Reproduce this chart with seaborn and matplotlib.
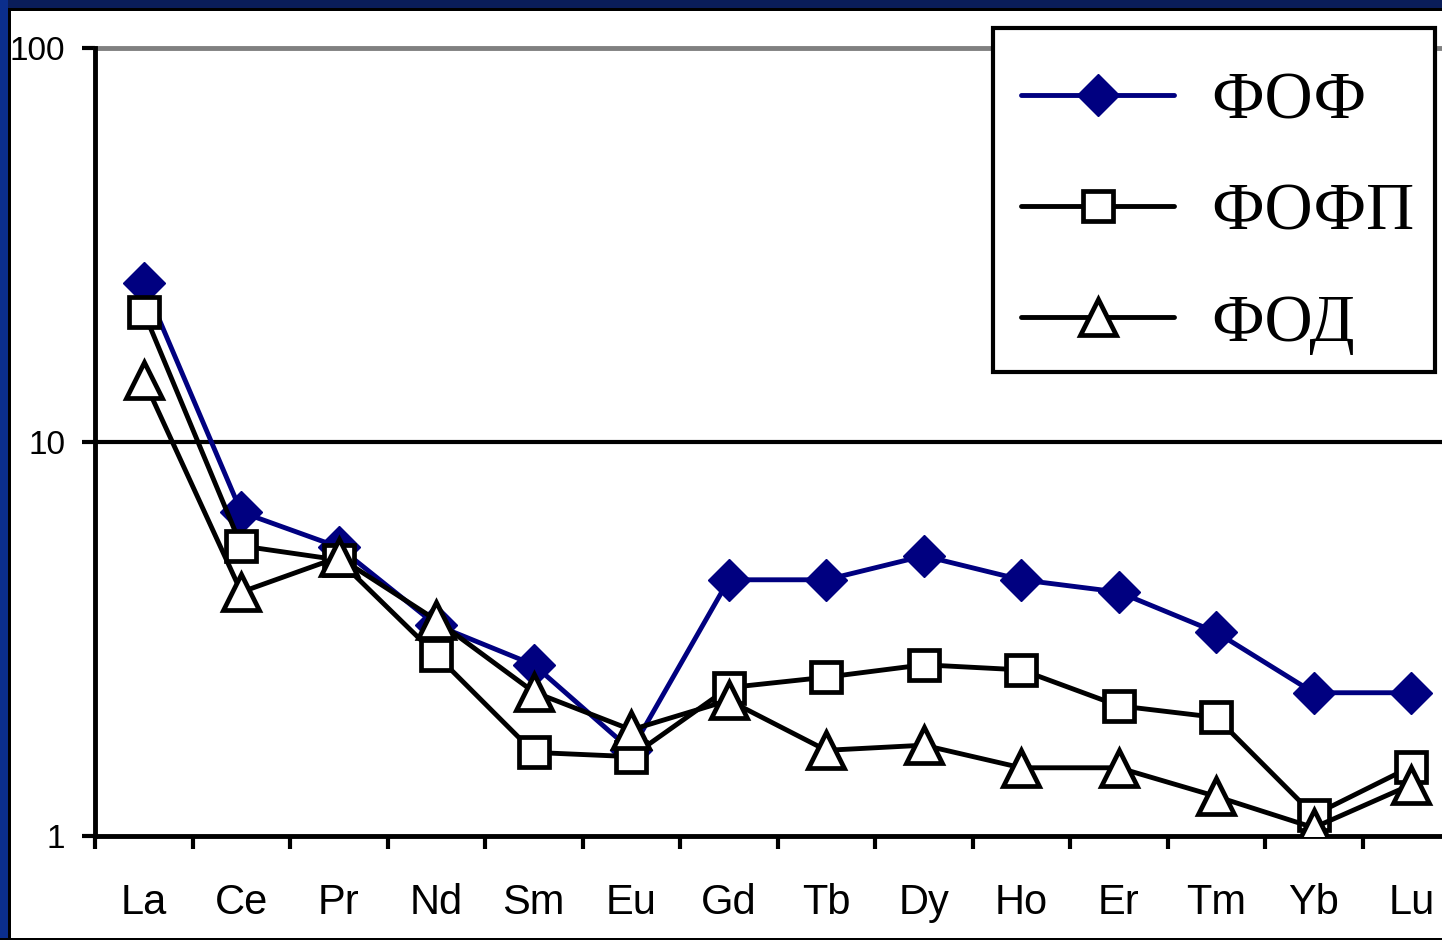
import matplotlib
matplotlib.use("Agg")
import matplotlib.pyplot as plt
import seaborn as sns
import numpy as np
from matplotlib.patches import Rectangle

# данные (нормированные содержания РЗЭ)
elements = ["La", "Ce", "Pr", "Nd", "Sm", "Eu", "Gd", "Tb", "Dy", "Ho", "Er", "Tm", "Yb", "Lu"]
fof = [25.3, 6.64, 5.41, 3.43, 2.72, 1.65, 4.47, 4.47, 5.14, 4.47, 4.16, 3.29, 2.31, 2.31]
fofp = [21.4, 5.45, 5.02, 2.88, 1.63, 1.59, 2.38, 2.53, 2.72, 2.64, 2.14, 2.0, 1.13, 1.50]
fod = [14.4, 4.16, 5.1, 3.53, 2.32, 1.86, 2.21, 1.65, 1.70, 1.49, 1.49, 1.26, 1.05, 1.35]
series_names = ["ФОФ", "ФОФП", "ФОД"]
y_ticks = [1, 10, 100]

sns.set_style("white")
plt.rcParams["font.family"] = ["Liberation Sans", "DejaVu Sans"]
plt.rcParams["text.color"] = "black"
plt.rcParams["xtick.color"] = "black"
plt.rcParams["ytick.color"] = "black"

W, H = 1442, 940
fig = plt.figure(figsize=(W / 100, H / 100), dpi=100)
fig.patch.set_facecolor("white")

# оси выходят за правый край (как в исходной картинке)
ax = fig.add_axes([95 / W, (H - 836) / H, (1460 - 95) / W, (836 - 48) / H])
ax.set_yscale("log")

x = np.arange(len(elements))
lw = 3.5
sns.lineplot(x=x, y=fof, ax=ax, color="#000080", linewidth=lw, marker="D", markersize=21,
             markerfacecolor="#000080", markeredgecolor="#000080", markeredgewidth=1,
             label=series_names[0], zorder=3)
sns.lineplot(x=x, y=fofp, ax=ax, color="black", linewidth=lw, marker="s", markersize=21,
             markerfacecolor="white", markeredgecolor="black", markeredgewidth=3.4,
             label=series_names[1], zorder=4)
sns.lineplot(x=x, y=fod, ax=ax, color="black", linewidth=lw, marker="^", markersize=26,
             markerfacecolor="white", markeredgecolor="black", markeredgewidth=3.4,
             label=series_names[2], zorder=5)

ax.set_xlim(-0.5, len(elements) - 0.5)
ax.set_ylim(1, 100)

# линии сетки: 10 — чёрная, 100 — серая
ax.axhline(10, color="black", lw=3, zorder=1)
ax.axhline(100, color="#808080", lw=3.5, zorder=1, clip_on=False)

for side in ["top", "right"]:
    ax.spines[side].set_visible(False)
for side in ["left", "bottom"]:
    ax.spines[side].set_color("black")
    ax.spines[side].set_linewidth(3.5)

ax.set_yticks(y_ticks)
ax.set_yticklabels([str(v) for v in y_ticks])
ax.yaxis.set_minor_locator(matplotlib.ticker.NullLocator())
ax.tick_params(axis="y", which="major", length=9.5, width=3, direction="out",
               labelsize=24, pad=12, left=True)

ax.set_xticks(x)
ax.set_xticklabels(elements)
ax.set_xticks(np.arange(len(elements) + 1) - 0.5, minor=True)
ax.tick_params(axis="x", which="major", length=0, labelsize=30, pad=34)
ax.tick_params(axis="x", which="minor", length=9.5, width=3, direction="out", bottom=True)
ax.set_xlabel("")
ax.set_ylabel("")

# рамка легенды рисуется отдельно
ax.add_patch(Rectangle((993 / W, (H - 372) / H), (1435 - 993) / W, (372 - 28) / H,
                       transform=fig.transFigure, facecolor="white", edgecolor="black",
                       linewidth=3, zorder=6, clip_on=False))
leg = ax.legend(loc="upper right", bbox_to_anchor=(1451 / W, (H - 35) / H),
                bbox_transform=fig.transFigure, borderaxespad=0,
                prop={"family": "Liberation Serif", "size": 48},
                frameon=False, handlelength=2.3, handletextpad=0.55,
                labelspacing=0.75, borderpad=0.55, numpoints=1)
leg.set_zorder(7)
for t in leg.get_texts():
    t.set_color("black")

# рамка слайда
fig.patches.append(Rectangle((0, 1 - 8 / H), 1, 8 / H, transform=fig.transFigure,
                             facecolor="#0a1d5a", edgecolor="none", zorder=10))
fig.patches.append(Rectangle((0, 0), 8 / W, 1, transform=fig.transFigure,
                             facecolor="#0b2e8c", edgecolor="none", zorder=10))
fig.patches.append(Rectangle((8 / W, 1 - 11 / H), 1, 3 / H, transform=fig.transFigure,
                             facecolor="black", edgecolor="none", zorder=10))
fig.patches.append(Rectangle((8 / W, 0), 3 / W, 1 - 8 / H, transform=fig.transFigure,
                             facecolor="black", edgecolor="none", zorder=10))
fig.patches.append(Rectangle((0, 0), 1, 2 / H, transform=fig.transFigure,
                             facecolor="black", edgecolor="none", zorder=10))

fig.savefig("out.png", dpi=100)
